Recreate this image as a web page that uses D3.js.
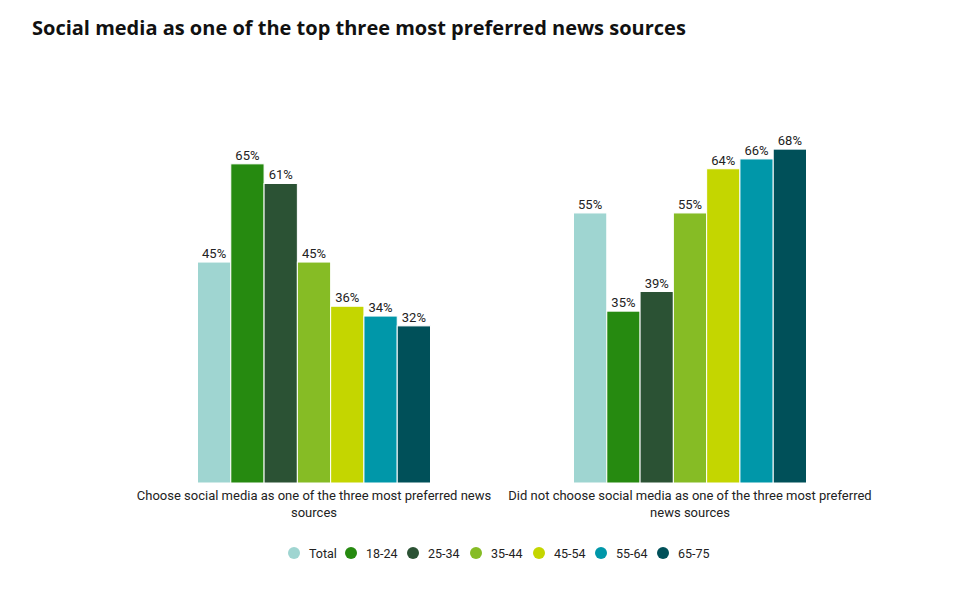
<!DOCTYPE html>
<html><head><meta charset="utf-8">
<script src="https://cdn.jsdelivr.net/npm/d3@7/dist/d3.min.js"></script>
<style>body{margin:0;background:#fff;}svg{display:block;}</style>
</head><body><svg id="c" width="955" height="590"></svg>
<script>
const categories = ["Choose social media as one of the three most preferred news sources",
  "Did not choose social media as one of the three most preferred news sources"];
const seriesNames = ["Total","18-24","25-34","35-44","45-54","55-64","65-75"];
const seriesColors = ["#9fd5d1","#268a10","#2b5234","#86bc25","#c4d600","#0097a9","#005059"];
const values = [
  [45,65,61,45,36,34,32],
  [55,35,39,55,64,66,68]
];

const svg = d3.select("#c");
svg.append("text").attr("x",32).attr("y",35)
  .attr("font-family","'Open Sans', sans-serif").attr("font-weight",700)
  .attr("font-size",20).attr("fill","#111")
  .text("Social media as one of the top three most preferred news sources");

const x0 = d3.scaleBand().domain(categories).range([126,878]).paddingInner(0).paddingOuter(0);
const x1 = d3.scaleBand().domain(seriesNames).range([0,233]);
const y = d3.scaleLinear().domain([0,70]).range([483,139.3]);
const color = d3.scaleOrdinal().domain(seriesNames).range(seriesColors);

const groups = svg.selectAll("g.grp").data(categories).join("g")
  .attr("transform",c=>`translate(${x0(c)+(x0.bandwidth()-233)/2},0)`);
groups.selectAll("rect").data((c,i)=>seriesNames.map((s,j)=>({s,v:values[i][j]}))).join("rect")
  .attr("x",d=>x1(d.s)).attr("width",x1.bandwidth())
  .attr("y",d=>y(d.v)).attr("height",d=>y(0)-y(d.v))
  .attr("fill",d=>color(d.s)).attr("stroke","#fff").attr("stroke-width",1);
groups.selectAll("text.v").data((c,i)=>seriesNames.map((s,j)=>({s,v:values[i][j]}))).join("text")
  .attr("class","v").attr("x",d=>x1(d.s)+x1.bandwidth()/2).attr("y",d=>y(d.v)-4)
  .attr("text-anchor","middle").attr("font-family","Roboto, sans-serif").attr("font-size",13)
  .attr("fill","#222").text(d=>d.v+"%");

// category labels (wrapped)
const catLines = [["Choose social media as one of the three most preferred news","sources"],
  ["Did not choose social media as one of the three most preferred","news sources"]];
categories.forEach((c,i)=>{
  const t = svg.append("text").attr("text-anchor","middle").attr("font-family","Roboto, sans-serif")
    .attr("font-size",13).attr("fill","#222");
  catLines[i].forEach((l,k)=>t.append("tspan").attr("x",x0(c)+x0.bandwidth()/2).attr("y",500+k*17).text(l));
});

// legend
const legX = [294,351,413,476,539,601,663];
const lg = svg.append("g");
seriesNames.forEach((s,i)=>{
  lg.append("circle").attr("cx",legX[i]).attr("cy",553).attr("r",6).attr("fill",color(s));
  lg.append("text").attr("x",legX[i]+15).attr("y",557.5).attr("font-family","Roboto, sans-serif")
    .attr("font-size",12.5).attr("fill","#222").text(s);
});
</script></body></html>
